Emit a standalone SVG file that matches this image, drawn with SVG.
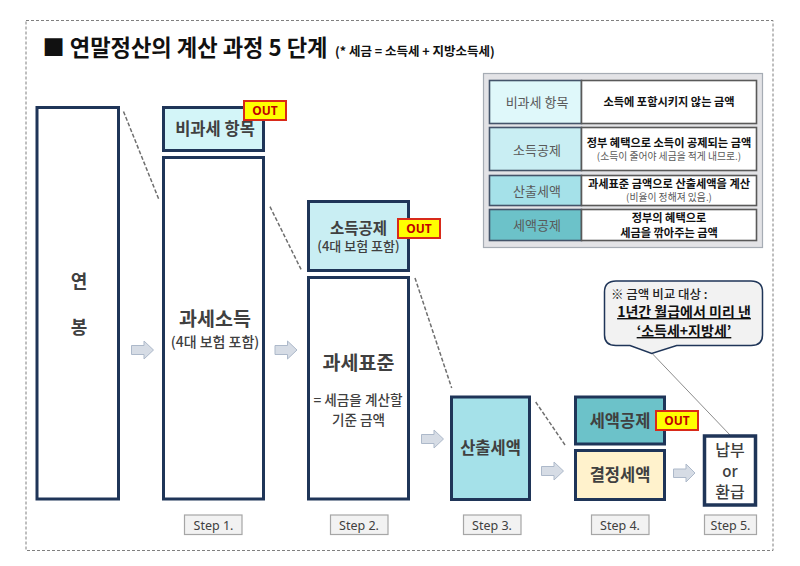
<svg xmlns="http://www.w3.org/2000/svg" width="800" height="566" viewBox="0 0 800 566">
<style>
text{font-family:"Noto Sans CJK KR","Noto Sans",sans-serif;text-anchor:middle}
.b{fill:#fff;stroke:#1f3558;stroke-width:3}
.lbl{font-weight:700;fill:#404040}
.sub{font-weight:500;fill:#404040;font-size:14px}
.out rect{fill:#ffff00;stroke:#d82a1a;stroke-width:2}
.out text{font-family:"Noto Sans","Noto Sans CJK KR",sans-serif;font-weight:700;font-size:12px;fill:#c00000}
.dash{stroke:#6f6f6f;stroke-width:1.500;stroke-dasharray:4 2;fill:none}
.arr{fill:#d6dce5;stroke:#adb9ca;stroke-width:1}
.step rect{fill:#f2f2f2;stroke:#a6a6a6;stroke-width:1.2}
.step text{font-family:"Noto Sans",sans-serif;font-size:12.500px;fill:#404040}
.rl{stroke:#44546a;stroke-width:1.6}
.rr{fill:#fff;stroke:#595959;stroke-width:1.6}
.k{font-size:13px;fill:#595959;font-weight:400}
.d{font-size:11.200px;font-weight:700;fill:#111}
.s{font-size:9.800px;fill:#595959;font-weight:400}
</style>
<rect x="26" y="20.500" width="747" height="530" fill="none" stroke="#7f7f7f" stroke-width="1" stroke-dasharray="3 2"/>
<g id="title">
<text x="42.500" y="56" style="text-anchor:start;font-weight:700;font-size:22.200px;fill:#111">■ 연말정산의 계산 과정 5 단계</text>
<text x="335" y="56" style="text-anchor:start;font-weight:700;font-size:12.500px;fill:#111">(* 세금 = 소득세 + 지방소득세)</text>
</g>
<g id="connectors">
<path class="dash" d="M123.500 111.500L158.700 199M270 206.700L301.700 270.700M415 278L451.700 388M535.700 402L565.700 446"/>
<path class="arr" d="M131.500 345.500H144V341L153.500 350L144 359V354.500H131.500Z"/>
<path class="arr" d="M275 345.500H287.500V341L297 350L287.500 359V354.500H275Z"/>
<path class="arr" d="M421.500 434.500H434V430L443.500 439L434 448V443.500H421.500Z"/>
<path class="arr" d="M541.500 466.500H554V462L563.500 471L554 480V475.500H541.500Z"/>
<path class="arr" d="M673.500 469H686V464L695 473L686 482V477.500H673.500Z"/>
<path d="M651.700 353L730 435" stroke="#8c8c8c" stroke-width="1" fill="none"/>
</g>
<g id="n-salary"><rect class="b" x="37" y="107.500" width="81.500" height="391.500"/>
<text class="lbl" x="79" y="288" font-size="18">연</text><text class="lbl" x="79" y="334" font-size="18">봉</text></g>
<g id="n-nontax"><rect class="b" x="163.500" y="107.500" width="100" height="43" style="fill:#d3f5f8"/>
<text class="lbl" x="215" y="135" font-size="16.500">비과세 항목</text></g>
<g id="n-taxable"><rect class="b" x="163.500" y="157.500" width="100" height="341.500"/>
<text class="lbl" x="215" y="326" font-size="19.500">과세소득</text><text class="sub" x="215" y="347">(4대 보험 포함)</text></g>
<g id="n-deduct"><rect class="b" x="308.500" y="201.500" width="100" height="69" style="fill:#c9eef3"/>
<text class="lbl" x="358.500" y="234" font-size="15.500">소득공제</text><text class="sub" x="358.500" y="251" style="font-size:13px">(4대 보험 포함)</text></g>
<g id="n-base"><rect class="b" x="308.500" y="277.500" width="100" height="221.500"/>
<text class="lbl" x="358.500" y="370" font-size="19.500">과세표준</text><text class="sub" x="358" y="404.500" style="font-size:13.600px">= 세금을 계산할</text><text class="sub" x="358.500" y="424.500" style="font-size:13.600px">기준 금액</text></g>
<g id="n-calc"><rect class="b" x="451.500" y="397" width="78" height="102.500" style="fill:#a5e1e9"/>
<text class="lbl" x="490.500" y="454" font-size="16.500">산출세액</text></g>
<g id="n-credit"><rect class="b" x="575.500" y="397" width="89" height="47" style="fill:#6cc2c9"/>
<text class="lbl" x="620" y="427" font-size="16.500">세액공제</text></g>
<g id="n-final"><rect class="b" x="575.500" y="450.500" width="89" height="49" style="fill:#fff2cc"/>
<text class="lbl" x="620" y="481" font-size="16.500">결정세액</text></g>
<g id="n-pay"><rect class="b" x="704.500" y="436" width="51" height="69" style="stroke-width:3.500"/>
<text class="lbl" x="730" y="456" font-size="16" style="font-weight:500">납부</text><text class="lbl" x="730" y="477" font-size="15" style="font-weight:500">or</text><text class="lbl" x="730" y="498" font-size="16" style="font-weight:500">환급</text></g>
<g class="out" id="out-1"><rect x="244" y="101" width="42" height="19"/><text x="265" y="115">OUT</text></g>
<g class="out" id="out-2"><rect x="398" y="219" width="42" height="19"/><text x="419" y="233">OUT</text></g>
<g class="out" id="out-3"><rect x="656" y="411" width="42" height="19"/><text x="677" y="425">OUT</text></g>
<g id="legend">
<rect x="483.500" y="73.500" width="279" height="174" fill="#e3e3e6" stroke="#a6acb4" stroke-width="1.200"/>
<rect class="rl" x="489.500" y="80.500" width="92" height="43" fill="#dff8fa"/><rect class="rr" x="581.500" y="80.500" width="175" height="43"/>
<text class="k" x="537" y="107">비과세 항목</text><text class="d" x="669" y="106">소득에 포함시키지 않는 금액</text>
<rect class="rl" x="489.500" y="127.500" width="92" height="43" fill="#c9eef3"/><rect class="rr" x="581.500" y="127.500" width="175" height="43"/>
<text class="k" x="537" y="155">소득공제</text><text class="d" x="669" y="147">정부 혜택으로 소득이 공제되는 금액</text><text class="s" x="669" y="160">(소득이 줄어야 세금을 적게 내므로.)</text>
<rect class="rl" x="489.500" y="175.500" width="92" height="30" fill="#a5e1e9"/><rect class="rr" x="581.500" y="175.500" width="175" height="30"/>
<text class="k" x="537" y="196">산출세액</text><text class="d" x="669" y="188">과세표준 금액으로 산출세액을 계산</text><text class="s" x="669" y="201">(비율이 정해져 있음.)</text>
<rect class="rl" x="489.500" y="209.500" width="92" height="31" fill="#6cc2c9"/><rect class="rr" x="581.500" y="209.500" width="175" height="31"/>
<text class="k" x="537" y="230">세액공제</text><text class="d"><tspan x="669" y="221.500">정부의 혜택으로</tspan><tspan x="669" y="236.500">세금을 깎아주는 금액</tspan></text>
</g>
<g id="callout">
<path d="M616 281H751Q762.500 281 762.500 292V335Q762.500 345.500 751 345.500H676.700L651.700 353.500L630 345.500H616Q604.500 345.500 604.500 335V292Q604.500 281 616 281Z" fill="#f2f2f2" stroke="#1f3558" stroke-width="1.500"/>
<text x="611" y="299" style="text-anchor:start;font-size:12.500px;font-weight:500;fill:#222">※ 금액 비교 대상 :</text>
<text x="684" y="317" style="font-size:14px;font-weight:700;fill:#111;text-decoration:underline">1년간 월급에서 미리 낸</text>
<text x="684" y="336" style="font-size:14px;font-weight:700;fill:#111;text-decoration:underline">‘소득세+지방세’</text>
</g>
<g class="step" id="step-1"><rect x="184.500" y="515" width="57.500" height="19.500"/><text x="213.500" y="530">Step 1.</text></g>
<g class="step" id="step-2"><rect x="330.500" y="515" width="57.500" height="19.500"/><text x="359" y="530">Step 2.</text></g>
<g class="step" id="step-3"><rect x="463.500" y="515" width="57.500" height="19.500"/><text x="492" y="530">Step 3.</text></g>
<g class="step" id="step-4"><rect x="591.500" y="515" width="57.500" height="19.500"/><text x="620" y="530">Step 4.</text></g>
<g class="step" id="step-5"><rect x="704.500" y="515" width="52" height="19.500"/><text x="730.500" y="530">Step 5.</text></g>
</svg>
